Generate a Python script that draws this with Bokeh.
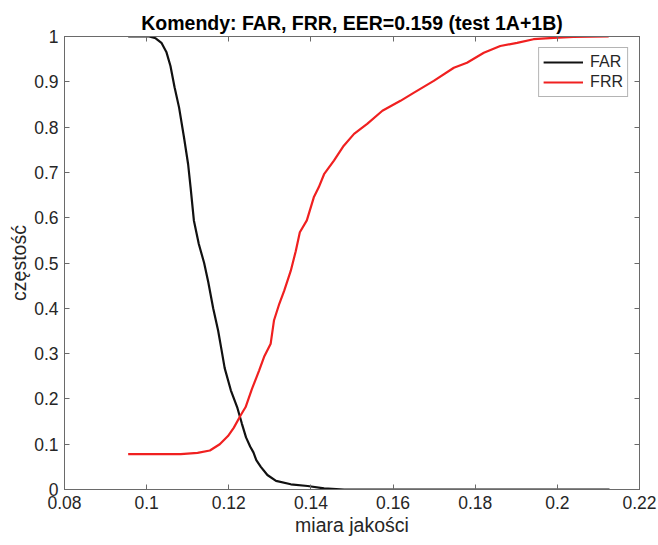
from bokeh.plotting import figure
from bokeh.models import Range1d, FixedTicker, LinearAxis, Legend, LegendItem
from bokeh.embed import file_html
from bokeh.resources import INLINE

# FAR curve (black)
far_x = [0.0955, 0.1006, 0.1022, 0.1036, 0.1048, 0.1058, 0.1068, 0.1079, 0.1091, 0.1101, 0.1107,
         0.1115, 0.1127, 0.1140, 0.1150, 0.1162, 0.1174, 0.1182, 0.1190, 0.1205,
         0.1221, 0.1232, 0.1242, 0.1252, 0.1260, 0.1267, 0.1278, 0.1294, 0.1315,
         0.1351, 0.1392, 0.1432, 0.1481, 0.2127]
far_y = [1.0, 1.0, 0.996, 0.986, 0.966, 0.935, 0.888, 0.843, 0.777, 0.718, 0.667,
         0.594, 0.542, 0.500, 0.458, 0.400, 0.351, 0.310, 0.268, 0.219,
         0.180, 0.145, 0.115, 0.095, 0.082, 0.065, 0.050, 0.032, 0.019,
         0.0115, 0.0077, 0.0026, 0.0, 0.0]

# FRR curve (red)
frr_x = [0.0955, 0.1083, 0.1124, 0.1154, 0.1178, 0.1198, 0.1212, 0.1229, 0.1241,
         0.1256, 0.1274, 0.1286, 0.1302, 0.1310, 0.1323, 0.1335, 0.1351, 0.1363,
         0.1373, 0.1390, 0.1407, 0.1419, 0.1432, 0.1456, 0.1480, 0.1505, 0.1537,
         0.1574, 0.1618, 0.1651, 0.1699, 0.1748, 0.1780, 0.1821, 0.1861, 0.1902,
         0.1942, 0.1991, 0.2039, 0.2125]
frr_y = [0.078, 0.078, 0.081, 0.086, 0.100, 0.118, 0.136, 0.164, 0.182,
         0.221, 0.263, 0.293, 0.322, 0.373, 0.410, 0.439, 0.483, 0.526,
         0.568, 0.594, 0.645, 0.667, 0.696, 0.726, 0.759, 0.785, 0.807,
         0.836, 0.858, 0.876, 0.902, 0.931, 0.942, 0.964, 0.979, 0.986,
         0.994, 0.997, 0.999, 1.0]

x_ticks = [0.08, 0.10, 0.12, 0.14, 0.16, 0.18, 0.20, 0.22]
x_tick_labels = ["0.08", "0.1", "0.12", "0.14", "0.16", "0.18", "0.2", "0.22"]
y_ticks = [0.0, 0.1, 0.2, 0.3, 0.4, 0.5, 0.6, 0.7, 0.8, 0.9, 1.0]
y_tick_labels = ["0", "0.1", "0.2", "0.3", "0.4", "0.5", "0.6", "0.7", "0.8", "0.9", "1"]
title_text = "Komendy: FAR, FRR, EER=0.159 (test 1A+1B)"

FONT = "Liberation Sans"
TXT = "#262626"
AX = "#6a6a6a"

p = figure(width=658, height=545, output_backend="svg", toolbar_location=None,
           x_range=Range1d(0.08, 0.22), y_range=Range1d(0, 1),
           min_border_left=64, min_border_right=19, min_border_top=36, min_border_bottom=56,
           title=title_text)
p.title.align = "center"
p.title.text_font = FONT
p.title.text_font_size = "19.5px"
p.title.text_font_style = "bold"
p.title.text_color = "#000000"
p.title.offset = 0
p.title.standoff = 6
p.grid.visible = False
p.outline_line_color = AX
p.background_fill_color = "white"
p.border_fill_color = "white"

r_far = p.line(far_x, far_y, line_color="#111111", line_width=2.2)
r_frr = p.line(frr_x, frr_y, line_color="#f02020", line_width=2.2)

def style_axis(ax, labels, ticks, show_labels=True):
    ax.ticker = FixedTicker(ticks=ticks)
    ax.major_label_overrides = {t: l for t, l in zip(ticks, labels)}
    ax.major_tick_in = 5
    ax.major_tick_out = 0
    ax.minor_tick_in = 0
    ax.minor_tick_out = 0
    ax.axis_line_color = AX
    ax.major_tick_line_color = AX
    ax.major_label_text_font = FONT
    ax.major_label_text_font_size = "17.5px"
    ax.major_label_text_color = TXT
    ax.axis_label_text_font = FONT
    ax.axis_label_text_font_size = "19.5px"
    ax.axis_label_text_font_style = "normal"
    ax.axis_label_text_color = TXT
    if not show_labels:
        ax.major_label_text_font_size = "0px"
        ax.major_label_text_alpha = 0

xa = p.xaxis[0]
style_axis(xa, x_tick_labels, x_ticks)
xa.axis_label = "miara jakości"
xa.major_label_standoff = 6
xa.axis_label_standoff = 2

ya = p.yaxis[0]
style_axis(ya, y_tick_labels, y_ticks)
ya.axis_label = "częstość"
ya.major_label_standoff = 6
ya.axis_label_standoff = 1

top = LinearAxis()
style_axis(top, x_tick_labels, x_ticks, show_labels=False)
top.major_label_standoff = 0
p.add_layout(top, "above")
right = LinearAxis()
style_axis(right, y_tick_labels, y_ticks, show_labels=False)
right.major_label_standoff = 0
p.add_layout(right, "right")

legend = Legend(items=[LegendItem(label="FAR", renderers=[r_far]),
                       LegendItem(label="FRR", renderers=[r_frr])],
                location="top_right")
legend.label_text_font = FONT
legend.label_text_font_size = "16px"
legend.label_text_color = TXT
legend.border_line_color = AX
legend.border_line_width = 1
legend.glyph_width = 40
legend.glyph_height = 20
legend.label_height = 20
legend.spacing = 0
legend.padding = 4
legend.margin = 11
legend.label_standoff = 7
legend.background_fill_alpha = 1
p.add_layout(legend)

open("out.html", "w").write(file_html(p, INLINE))
